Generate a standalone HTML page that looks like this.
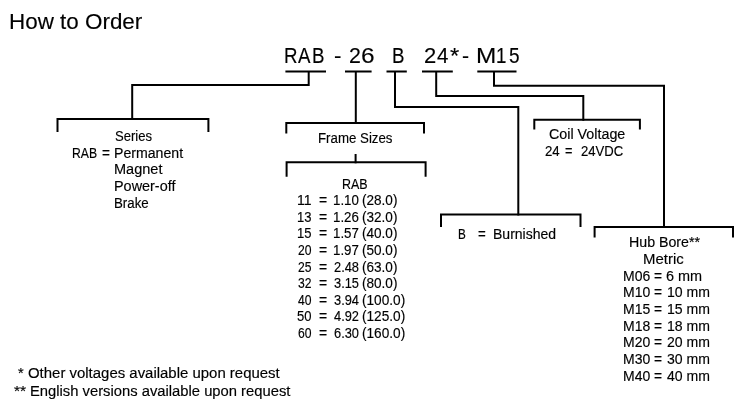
<!DOCTYPE html>
<html><head><meta charset="utf-8"><style>
html,body{margin:0;padding:0;background:#fff;width:750px;height:406px;overflow:hidden}
body{position:relative}
.t{position:absolute;line-height:0;white-space:pre;font-family:"Liberation Sans", sans-serif;color:#000;-webkit-text-stroke:0.15px #000;transform-origin:0 0}
svg{position:absolute;left:0;top:0}
#w{position:absolute;left:0;top:0;width:750px;height:406px;will-change:transform}
</style></head><body>
<div id="w">
<svg width="750" height="406" viewBox="0 0 750 406" fill="none" stroke="#000" stroke-width="2" stroke-linecap="square">
<path d="M286.4 71.4H325M346 71.4H370.6M387.5 71.4H405.8M423 71.4H451.8M478.3 71.4H515.5"/>
<path d="M308.7 72V85H132.2V119"/>
<path d="M57.5 131V119H208.4V131"/>
<path d="M355.8 72V123"/>
<path d="M286.3 132.6V123H424V132.6"/>
<path d="M355.6 155V162.3"/>
<path d="M286.6 175.7V162.3H425.6V175.7"/>
<path d="M395 72V107H518.3V214.4"/>
<path d="M441 226.1V214.4H580.5V226.1"/>
<path d="M436.2 72V96H583.3V119.8"/>
<path d="M534.3 128.6V119.8H639.9V128.6"/>
<path d="M494 72V85.8H664V227"/>
<path d="M594.6 236.5V227H733V236.5"/>
</svg>

<div class="t" style="left:8.9px;top:22px;font-size:22px;transform:scaleX(1.019)">How to Order</div>
<div class="t" style="left:283.6px;top:56px;font-size:22px;transform:scaleX(0.850)">R</div>
<div class="t" style="left:298.0px;top:56px;font-size:22px;transform:scaleX(0.850)">A</div>
<div class="t" style="left:312.2px;top:56px;font-size:22px;transform:scaleX(0.850)">B</div>
<div class="t" style="left:334.1px;top:56px;font-size:22px;transform:scaleX(1.017)">-</div>
<div class="t" style="left:349.0px;top:56px;font-size:22px;transform:scaleX(0.970)">2</div>
<div class="t" style="left:360.8px;top:56px;font-size:22px;transform:scaleX(1.110)">6</div>
<div class="t" style="left:392.3px;top:56px;font-size:22px;transform:scaleX(0.850)">B</div>
<div class="t" style="left:424.0px;top:56px;font-size:22px;transform:scaleX(1.000)">2</div>
<div class="t" style="left:437.0px;top:56px;font-size:22px;transform:scaleX(0.933)">4</div>
<div class="t" style="left:449.9px;top:56px;font-size:22px;transform:scaleX(1.075)">*</div>
<div class="t" style="left:462.2px;top:56px;font-size:22px;transform:scaleX(0.967)">-</div>
<div class="t" style="left:475.5px;top:56px;font-size:22px;transform:scaleX(1.107)">M</div>
<div class="t" style="left:496.1px;top:56px;font-size:22px;transform:scaleX(0.850)">1</div>
<div class="t" style="left:509.1px;top:56px;font-size:22px;transform:scaleX(0.864)">5</div>
<div class="t" style="left:115.1px;top:137px;font-size:13.8px;transform:scaleX(0.947)">Series</div>
<div class="t" style="left:72.2px;top:154px;font-size:13.8px;transform:scaleX(0.885)">RAB</div>
<div class="t" style="left:102.0px;top:154px;font-size:13.8px;transform:scaleX(0.988)">=</div>
<div class="t" style="left:113.9px;top:154px;font-size:13.8px;transform:scaleX(1.024)">Permanent</div>
<div class="t" style="left:113.8px;top:170px;font-size:13.8px;transform:scaleX(1.053)">Magnet</div>
<div class="t" style="left:113.9px;top:187px;font-size:13.8px;transform:scaleX(1.045)">Power-off</div>
<div class="t" style="left:113.9px;top:204px;font-size:13.8px;transform:scaleX(0.963)">Brake</div>
<div class="t" style="left:317.8px;top:139px;font-size:13.8px;transform:scaleX(0.962)">Frame Sizes</div>
<div class="t" style="left:341.6px;top:185px;font-size:13.8px;transform:scaleX(0.904)">RAB</div>
<div class="t" style="left:297.0px;top:201px;font-size:13.8px;transform:scaleX(1.015)">11</div>
<div class="t" style="left:319.1px;top:201px;font-size:13.8px;transform:scaleX(1.012)">=</div>
<div class="t" style="left:332.5px;top:201px;font-size:13.8px;transform:scaleX(0.965)">1.10</div>
<div class="t" style="left:361.9px;top:201px;font-size:13.8px;transform:scaleX(0.982)">(28.0)</div>
<div class="t" style="left:297.1px;top:218px;font-size:13.8px;transform:scaleX(0.943)">13</div>
<div class="t" style="left:319.1px;top:218px;font-size:13.8px;transform:scaleX(1.012)">=</div>
<div class="t" style="left:332.5px;top:218px;font-size:13.8px;transform:scaleX(0.965)">1.26</div>
<div class="t" style="left:361.9px;top:218px;font-size:13.8px;transform:scaleX(0.982)">(32.0)</div>
<div class="t" style="left:297.1px;top:234px;font-size:13.8px;transform:scaleX(0.943)">15</div>
<div class="t" style="left:319.1px;top:234px;font-size:13.8px;transform:scaleX(1.012)">=</div>
<div class="t" style="left:332.5px;top:234px;font-size:13.8px;transform:scaleX(0.965)">1.57</div>
<div class="t" style="left:361.9px;top:234px;font-size:13.8px;transform:scaleX(0.982)">(40.0)</div>
<div class="t" style="left:298.0px;top:251px;font-size:13.8px;transform:scaleX(0.880)">20</div>
<div class="t" style="left:319.1px;top:251px;font-size:13.8px;transform:scaleX(1.012)">=</div>
<div class="t" style="left:332.5px;top:251px;font-size:13.8px;transform:scaleX(0.965)">1.97</div>
<div class="t" style="left:361.9px;top:251px;font-size:13.8px;transform:scaleX(0.982)">(50.0)</div>
<div class="t" style="left:298.0px;top:268px;font-size:13.8px;transform:scaleX(0.880)">25</div>
<div class="t" style="left:319.1px;top:268px;font-size:13.8px;transform:scaleX(1.012)">=</div>
<div class="t" style="left:333.5px;top:268px;font-size:13.8px;transform:scaleX(0.930)">2.48</div>
<div class="t" style="left:361.9px;top:268px;font-size:13.8px;transform:scaleX(0.982)">(63.0)</div>
<div class="t" style="left:298.0px;top:284px;font-size:13.8px;transform:scaleX(0.880)">32</div>
<div class="t" style="left:319.1px;top:284px;font-size:13.8px;transform:scaleX(1.012)">=</div>
<div class="t" style="left:333.5px;top:284px;font-size:13.8px;transform:scaleX(0.930)">3.15</div>
<div class="t" style="left:361.9px;top:284px;font-size:13.8px;transform:scaleX(0.982)">(80.0)</div>
<div class="t" style="left:298.0px;top:301px;font-size:13.8px;transform:scaleX(0.880)">40</div>
<div class="t" style="left:319.1px;top:301px;font-size:13.8px;transform:scaleX(1.012)">=</div>
<div class="t" style="left:333.5px;top:301px;font-size:13.8px;transform:scaleX(0.930)">3.94</div>
<div class="t" style="left:361.9px;top:301px;font-size:13.8px;transform:scaleX(0.988)">(100.0)</div>
<div class="t" style="left:297.1px;top:317px;font-size:13.8px;transform:scaleX(0.943)">50</div>
<div class="t" style="left:319.1px;top:317px;font-size:13.8px;transform:scaleX(1.012)">=</div>
<div class="t" style="left:333.5px;top:317px;font-size:13.8px;transform:scaleX(0.930)">4.92</div>
<div class="t" style="left:361.9px;top:317px;font-size:13.8px;transform:scaleX(0.988)">(125.0)</div>
<div class="t" style="left:298.0px;top:334px;font-size:13.8px;transform:scaleX(0.880)">60</div>
<div class="t" style="left:319.1px;top:334px;font-size:13.8px;transform:scaleX(1.012)">=</div>
<div class="t" style="left:333.5px;top:334px;font-size:13.8px;transform:scaleX(0.930)">6.30</div>
<div class="t" style="left:361.9px;top:334px;font-size:13.8px;transform:scaleX(0.988)">(160.0)</div>
<div class="t" style="left:548.6px;top:135px;font-size:13.8px;transform:scaleX(1.036)">Coil Voltage</div>
<div class="t" style="left:545.4px;top:152px;font-size:13.8px;transform:scaleX(0.960)">24</div>
<div class="t" style="left:565.2px;top:152px;font-size:13.8px;transform:scaleX(0.925)">=</div>
<div class="t" style="left:580.8px;top:152px;font-size:13.8px;transform:scaleX(0.950)">24VDC</div>
<div class="t" style="left:457.7px;top:235px;font-size:13.8px;transform:scaleX(0.850)">B</div>
<div class="t" style="left:478.2px;top:235px;font-size:13.8px;transform:scaleX(0.962)">=</div>
<div class="t" style="left:493.0px;top:235px;font-size:13.8px;transform:scaleX(1.015)">Burnished</div>
<div class="t" style="left:628.8px;top:243px;font-size:13.8px;transform:scaleX(1.029)">Hub Bore**</div>
<div class="t" style="left:642.9px;top:260px;font-size:13.8px;transform:scaleX(1.083)">Metric</div>
<div class="t" style="left:623.4px;top:277px;font-size:13.8px;transform:scaleX(1.015)">M06</div>
<div class="t" style="left:654.0px;top:277px;font-size:13.8px;transform:scaleX(1.000)">=</div>
<div class="t" style="left:666.2px;top:277px;font-size:13.8px;transform:scaleX(1.047)">6 mm</div>
<div class="t" style="left:623.4px;top:293px;font-size:13.8px;transform:scaleX(1.015)">M10</div>
<div class="t" style="left:654.0px;top:293px;font-size:13.8px;transform:scaleX(1.000)">=</div>
<div class="t" style="left:666.5px;top:293px;font-size:13.8px;transform:scaleX(1.020)">10 mm</div>
<div class="t" style="left:623.4px;top:310px;font-size:13.8px;transform:scaleX(1.015)">M15</div>
<div class="t" style="left:654.0px;top:310px;font-size:13.8px;transform:scaleX(1.000)">=</div>
<div class="t" style="left:666.5px;top:310px;font-size:13.8px;transform:scaleX(1.020)">15 mm</div>
<div class="t" style="left:623.4px;top:327px;font-size:13.8px;transform:scaleX(1.015)">M18</div>
<div class="t" style="left:654.0px;top:327px;font-size:13.8px;transform:scaleX(1.000)">=</div>
<div class="t" style="left:666.5px;top:327px;font-size:13.8px;transform:scaleX(1.020)">18 mm</div>
<div class="t" style="left:623.4px;top:343px;font-size:13.8px;transform:scaleX(1.015)">M20</div>
<div class="t" style="left:654.0px;top:343px;font-size:13.8px;transform:scaleX(1.000)">=</div>
<div class="t" style="left:666.5px;top:343px;font-size:13.8px;transform:scaleX(1.019)">20 mm</div>
<div class="t" style="left:623.4px;top:360px;font-size:13.8px;transform:scaleX(1.015)">M30</div>
<div class="t" style="left:654.0px;top:360px;font-size:13.8px;transform:scaleX(1.000)">=</div>
<div class="t" style="left:666.5px;top:360px;font-size:13.8px;transform:scaleX(1.019)">30 mm</div>
<div class="t" style="left:623.4px;top:377px;font-size:13.8px;transform:scaleX(1.015)">M40</div>
<div class="t" style="left:654.0px;top:377px;font-size:13.8px;transform:scaleX(1.000)">=</div>
<div class="t" style="left:666.5px;top:377px;font-size:13.8px;transform:scaleX(1.019)">40 mm</div>
<div class="t" style="left:17.5px;top:374px;font-size:13.8px;transform:scaleX(1.060)">*</div>
<div class="t" style="left:27.5px;top:374px;font-size:13.8px;transform:scaleX(1.083)">Other voltages available upon request</div>
<div class="t" style="left:14.2px;top:392px;font-size:13.8px;transform:scaleX(1.130)">**</div>
<div class="t" style="left:30.0px;top:392px;font-size:13.8px;transform:scaleX(1.071)">English versions available upon request</div>
</div>
</body></html>
